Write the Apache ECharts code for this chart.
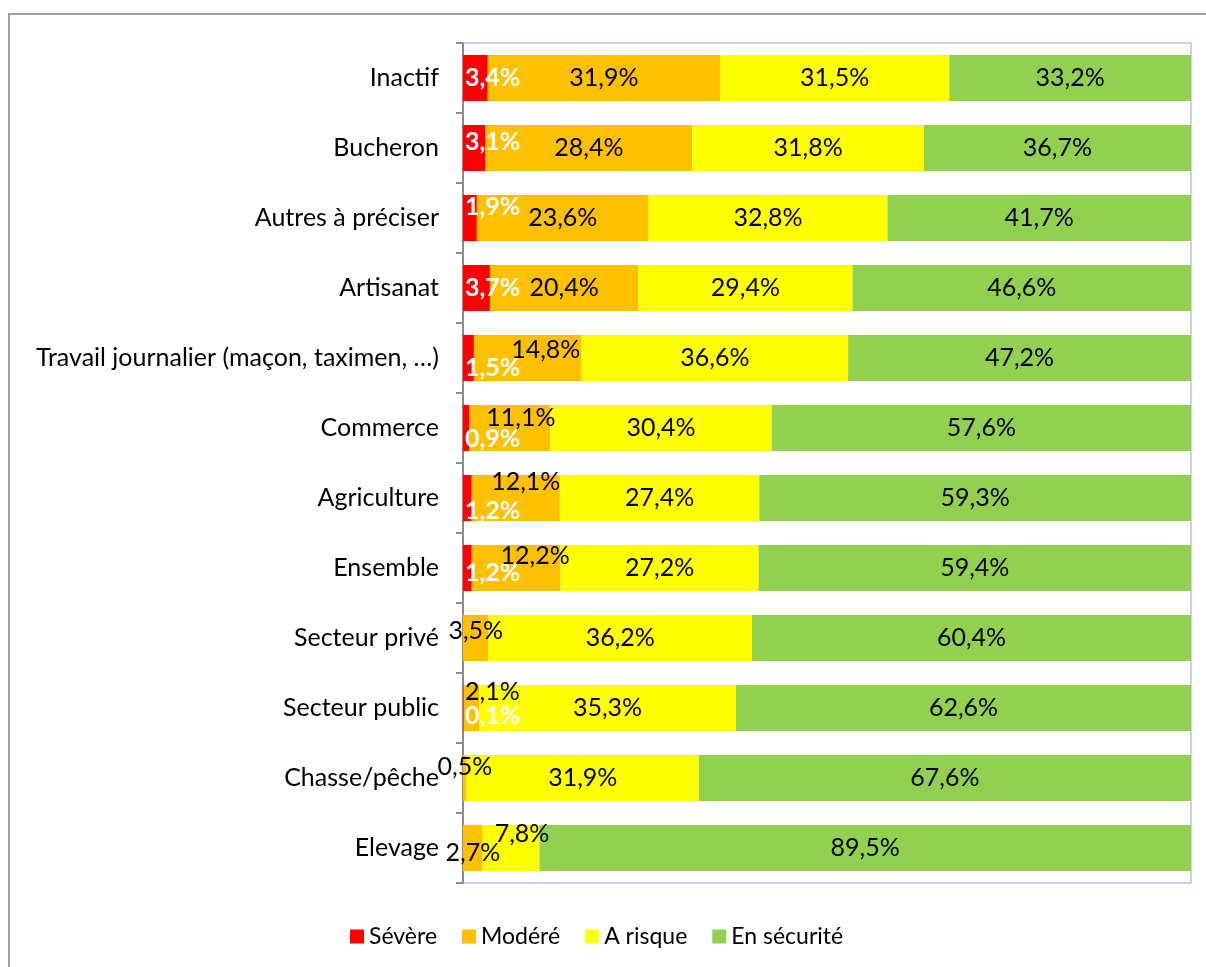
<!DOCTYPE html>
<html>
<head>
<meta charset="utf-8">
<script src="https://cdn.jsdelivr.net/npm/echarts@6/dist/echarts.min.js"></script>
<style>
  html, body { margin: 0; padding: 0; background: #fff; }
  #chart { width: 1206px; height: 967px; }
</style>
</head>
<body>
<div id="chart"></div>
<script>
// catégories (de haut en bas)
const categories = ['Inactif', 'Bucheron', 'Autres à préciser', 'Artisanat',
  'Travail journalier (maçon, taximen, …)', 'Commerce', 'Agriculture', 'Ensemble',
  'Secteur privé', 'Secteur public', 'Chasse/pêche', 'Elevage'];
// valeurs en %
const severe   = [3.4, 3.1, 1.9, 3.7, 1.5, 0.9, 1.2, 1.2, null, 0.1, null, null];
const modere   = [31.9, 28.4, 23.6, 20.4, 14.8, 11.1, 12.1, 12.2, 3.5, 2.1, 0.5, 2.7];
const risque   = [31.5, 31.8, 32.8, 29.4, 36.6, 30.4, 27.4, 27.2, 36.2, 35.3, 31.9, 7.8];
const securite = [33.2, 36.7, 41.7, 46.6, 47.2, 57.6, 59.3, 59.4, 60.4, 62.6, 67.6, 89.5];

const seriesNames = ['Sévère', 'Modéré', 'A risque', 'En sécurité'];
const colors = ['#FF0000', '#FFC000', '#FFFF00', '#92D050'];

// décalages des étiquettes (comme Excel les a placées) : index catégorie -> [dx, dy]
const labelShift = {
  'Sévère': { 1: [0, -6], 2: [0, -11], 4: [0, 10], 5: [0, 11], 6: [0, 13], 7: [0, 5], 9: [0, 8] },
  'Modéré': { 4: [18, -8], 5: [11, -10], 6: [10, -16], 7: [19, -12], 8: [0, -7], 9: [21, -16], 10: [0, -11], 11: [0, 5] },
  'A risque': { 11: [11, -14] },
  'En sécurité': {}
};

const FONT = 'Lato, "Open Sans", sans-serif';
const FS = 25;
const fmt = (v) => v.toFixed(1).replace('.', ',') + '%';

function buildSeries() {
  const all = [severe, modere, risque, securite];
  return all.map((vals, i) => {
    const name = seriesNames[i];
    const shifts = labelShift[name];
    return {
      name: name,
      type: 'bar',
      stack: 'total',
      barCategoryGap: '34%',
      itemStyle: { color: colors[i] },
      label: {
        show: true,
        position: i === 0 ? 'insideLeft' : 'inside',
        distance: 2,
        color: i === 0 ? '#ffffff' : '#000000',
        fontWeight: i === 0 ? 'bold' : 'normal',
        fontFamily: FONT,
        fontSize: FS,
        formatter: (p) => fmt(p.value)
      },
      data: vals.map((v, k) => {
        if (v == null) return null;
        const s = shifts[k];
        return s ? { value: v, label: { offset: s } } : v;
      })
    };
  });
}

const option = {
  animation: false,
  textStyle: { fontFamily: FONT },
  graphic: [{
    type: 'rect',
    shape: { x: 9, y: 14, width: 1300, height: 1000 },
    style: { fill: 'none', stroke: '#A0A0A0', lineWidth: 2 },
    silent: true
  }],
  legend: {
    data: seriesNames,
    left: 345,
    top: 920,
    itemWidth: 14,
    itemHeight: 14,
    itemGap: 25,
    icon: 'rect',
    textStyle: { fontFamily: FONT, fontSize: 23, color: '#000' }
  },
  grid: {
    left: 463,
    top: 43,
    right: 15,
    bottom: 84,
    show: true,
    borderColor: '#8AA9DB',
    borderWidth: 1,
    containLabel: false
  },
  xAxis: {
    type: 'value',
    min: 0,
    max: 100,
    show: false
  },
  yAxis: {
    type: 'category',
    inverse: true,
    data: categories,
    axisLine: { show: true, lineStyle: { color: '#8C8C8C', width: 2 } },
    axisTick: { show: true, length: 7, lineStyle: { color: '#8C8C8C', width: 2 } },
    axisLabel: { margin: 24, color: '#000', fontFamily: FONT, fontSize: FS },
    splitLine: { show: false }
  },
  series: buildSeries()
};

const myChart = echarts.init(document.getElementById('chart'));
myChart.setOption(option);
window.addEventListener('resize', () => {
  myChart.resize();
});
</script>
</body>
</html>
